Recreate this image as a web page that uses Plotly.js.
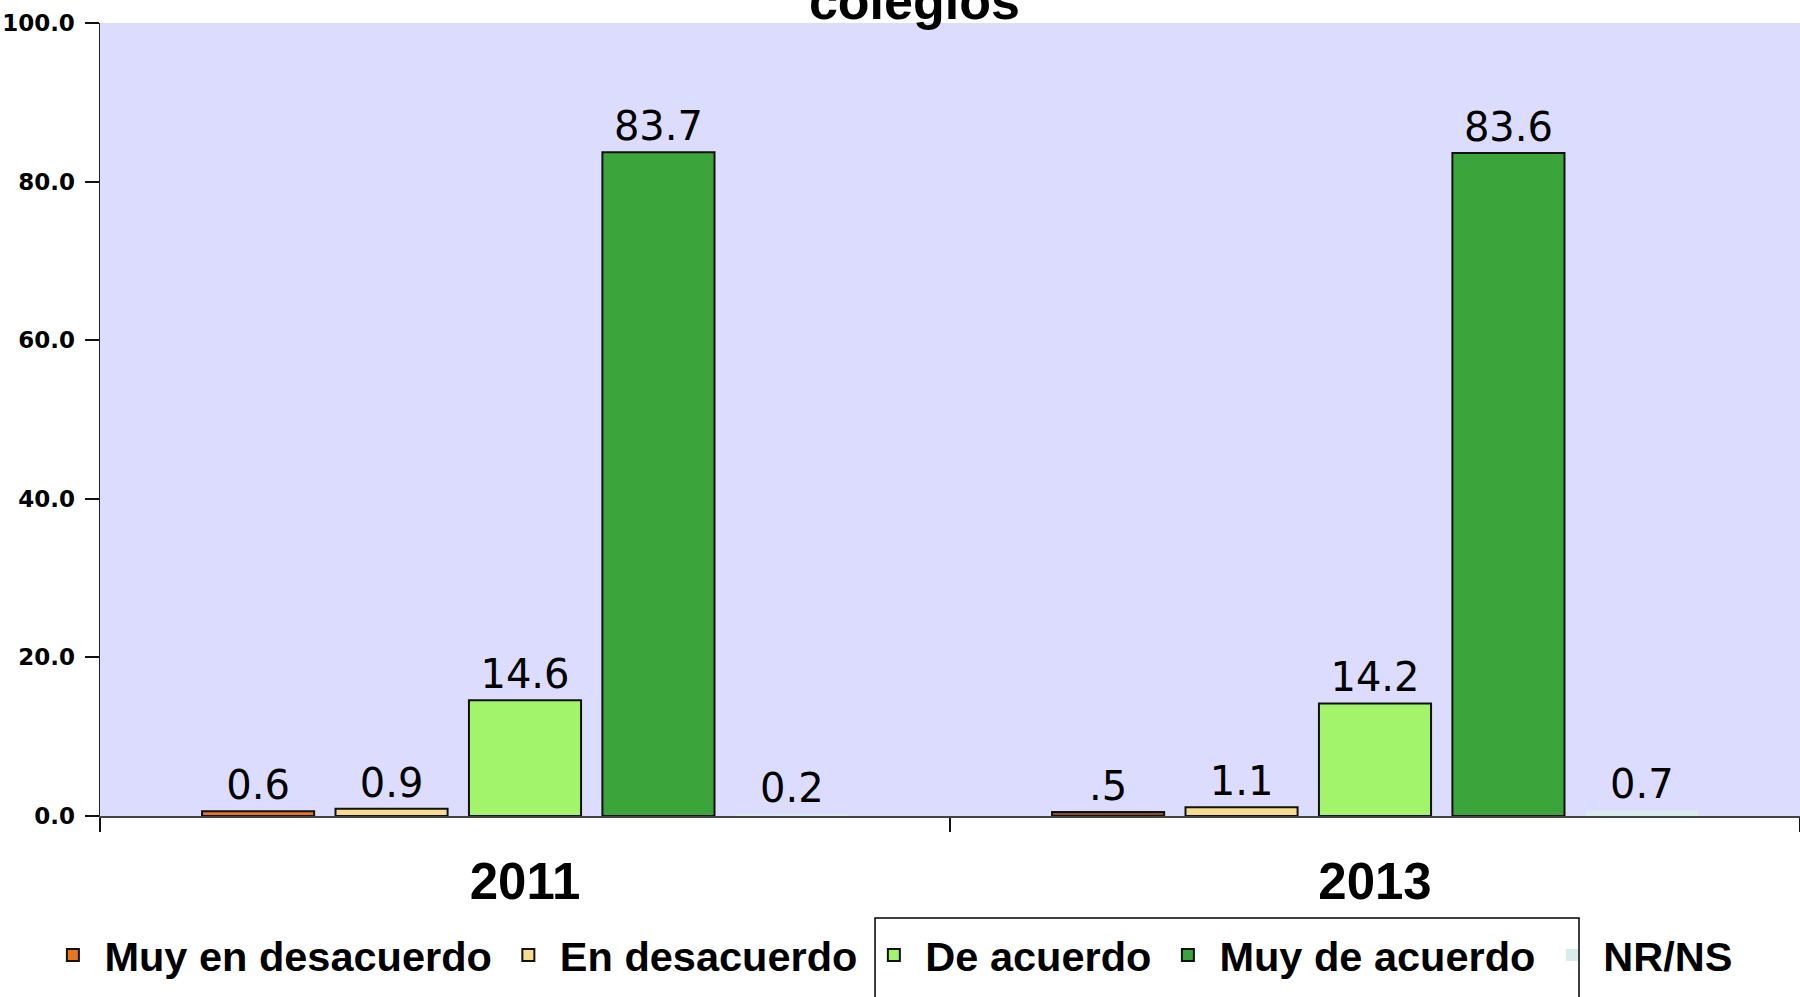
<!DOCTYPE html>
<html>
<head>
<meta charset="utf-8">
<script src="https://cdn.plot.ly/plotly-3.0.1.min.js"></script>
<style>html,body{margin:0;padding:0;background:#fff;}#chart{width:1800px;height:997px;}</style>
</head>
<body>
<div id="chart"></div>
<script>
// Data
const years = ['2011', '2013'];
const seriesNames = ['Muy en desacuerdo', 'En desacuerdo', 'De acuerdo', 'Muy de acuerdo', 'NR/NS'];
const muyEnDesacuerdo = [0.6, 0.5];
const enDesacuerdo = [0.9, 1.1];
const deAcuerdo = [14.6, 14.2];
const muyDeAcuerdo = [83.7, 83.6];
const nrns = [0.2, 0.7];
const muyEnDesacuerdoLabels = ['0.6', '.5'];
const yTickVals = [0, 20, 40, 60, 80, 100];
const titleText = 'colegios';

const fmt = v => v.toFixed(1);
const labelFont = {family: 'DejaVu Sans', size: 40, color: '#000'};

function bar(name, values, color, lineWidth, labels) {
  return {
    type: 'bar', name: name, x: years, y: values,
    text: labels || values.map(fmt),
    textposition: 'outside', cliponaxis: false,
    textfont: labelFont,
    marker: {color: color, line: {color: '#111', width: lineWidth}},
    hoverinfo: 'skip'
  };
}

const traces = [
  bar(seriesNames[0], muyEnDesacuerdo, ['#E8761E', '#8F4F22'], 2, muyEnDesacuerdoLabels),
  bar(seriesNames[1], enDesacuerdo, '#F7DC8C', 2),
  bar(seriesNames[2], deAcuerdo, '#A2F56A', 2),
  bar(seriesNames[3], muyDeAcuerdo, '#3BA53B', 2),
  bar(seriesNames[4], nrns, '#D8ECEE', 0)
];

const layout = {
  width: 1800, height: 997,
  margin: {l: 100, r: 0, t: 23, b: 181, pad: 0},
  paper_bgcolor: '#ffffff',
  plot_bgcolor: '#DCDCFE',
  barmode: 'group',
  bargap: 0.215,
  bargroupgap: 0.16,
  showlegend: true,
  title: {
    text: titleText,
    font: {family: 'Liberation Sans, Arial, sans-serif', size: 52, color: '#000', weight: 'bold'},
    xref: 'container', x: 0.508, xanchor: 'center',
    yref: 'container', y: 1, yanchor: 'top',
    pad: {t: -17}
  },
  xaxis: {
    type: 'category',
    ticks: 'outside', tickson: 'boundaries', ticklen: 14, tickwidth: 2, tickcolor: '#111',
    showline: true, linecolor: '#444', linewidth: 1.5,
    showgrid: false, zeroline: false,
    ticklabelstandoff: 20,
    tickfont: {family: 'Liberation Sans, Arial, sans-serif', size: 51, color: '#000', weight: 'bold'}
  },
  yaxis: {
    range: [0, 100],
    tickvals: yTickVals,
    ticktext: yTickVals.map(fmt),
    ticks: 'outside', ticklen: 14, tickwidth: 2, tickcolor: '#111',
    showline: true, linecolor: '#222', linewidth: 1.5,
    showgrid: false, zeroline: false,
    ticklabelstandoff: 5,
    tickfont: {family: 'DejaVu Sans', size: 23, color: '#000', weight: 'bold'}
  },
  legend: {
    orientation: 'h',
    xref: 'container', x: 0.023, xanchor: 'left',
    yref: 'container', y: 0.042, yanchor: 'middle',
    itemwidth: 53,
    bgcolor: 'rgba(0,0,0,0)',
    font: {family: 'Liberation Sans, Arial, sans-serif', size: 41.5, color: '#000', weight: 'bold'}
  },
  shapes: [{
    type: 'rect', xref: 'paper', yref: 'paper',
    x0: 0.4559, x1: 0.87, y0: -0.1286, y1: -0.26,
    line: {color: '#000', width: 1.5}, fillcolor: 'rgba(0,0,0,0)', layer: 'above'
  }]
};

Plotly.newPlot('chart', traces, layout, {displayModeBar: false, staticPlot: true});
</script>
</body>
</html>
